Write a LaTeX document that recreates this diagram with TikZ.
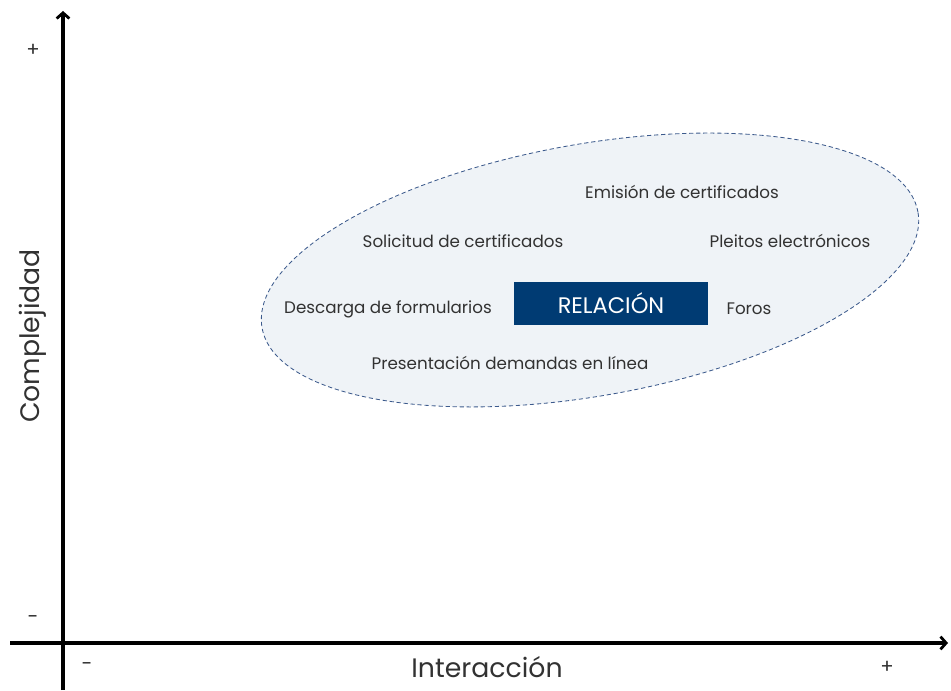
\documentclass[tikz,border=0pt]{standalone}
\usepackage{fontspec}
\setmainfont{Poppins}
\usetikzlibrary{arrows.meta}
\definecolor{navy}{RGB}{0,59,115}
\definecolor{cloud}{RGB}{239,243,247}
\definecolor{rim}{RGB}{60,90,140}
\definecolor{ink}{RGB}{50,50,50}
\tikzset{%
  >={Straight Barb[length=4pt,width=9pt,line width=2pt]},
  % Specifications for style of nodes:
        axis/.style = {line width=2.6pt, ->},
       item/.style = {font=\fontsize{11.9}{14}\selectfont, text=ink},
      sign/.style = {font=\fontsize{14}{16}\selectfont, text=ink},
   axislabel/.style = {font=\fontsize{19}{22}\selectfont, text=ink},
    relbox/.style = {rectangle, fill=navy, text=white, minimum width=4.85cm,
                     minimum height=1.075cm, font=\fontsize{16}{18}\selectfont},
}

\begin{document}
\begin{tikzpicture}[x=0.025cm, y=0.025cm]
\useasboundingbox (0,0) rectangle (951,690);

% Axes
\coordinate (yfoot) at (63,0);
\coordinate (ytip) at (63,679);
\coordinate (xfoot) at (10,47);
\coordinate (xtip) at (948,47);
\draw[axis] (yfoot) -- (ytip);
\draw[axis] (xfoot) -- (xtip);

\node (yplus) at (33,640) [sign] {+};
\node (yminus) at (33,70) [sign] {-};
\node (xminus) at (87,23) [sign] {-};
\node (xplus) at (887,23) [sign] {+};
\node (xlabel) at (487,23) [axislabel] {Interacción};
\node (ylabel) at (33,354) [axislabel, rotate=90] {Complejidad};

% Cloud of services
\draw[rim, fill=cloud, densely dashed, line width=0.6pt, rotate around={10:(590,420)}]
  (590,420) ellipse [x radius=333, y radius=126];

\node (emision) at (682,498) [item] {Emisión de certificados};
\node (solicitud) at (463,449) [item] {Solicitud de certificados};
\node (pleitos) at (790,449) [item] {Pleitos electrónicos};
\node (descarga) at (388,381) [item] {Descarga de formularios};
\node (relacion) at (611,386.5) [relbox] {RELACIÓN};
\node (foros) at (749,381) [item] {Foros};
\node (presentacion) at (510,327) [item] {Presentación demandas en línea};
\end{tikzpicture}
\end{document}
